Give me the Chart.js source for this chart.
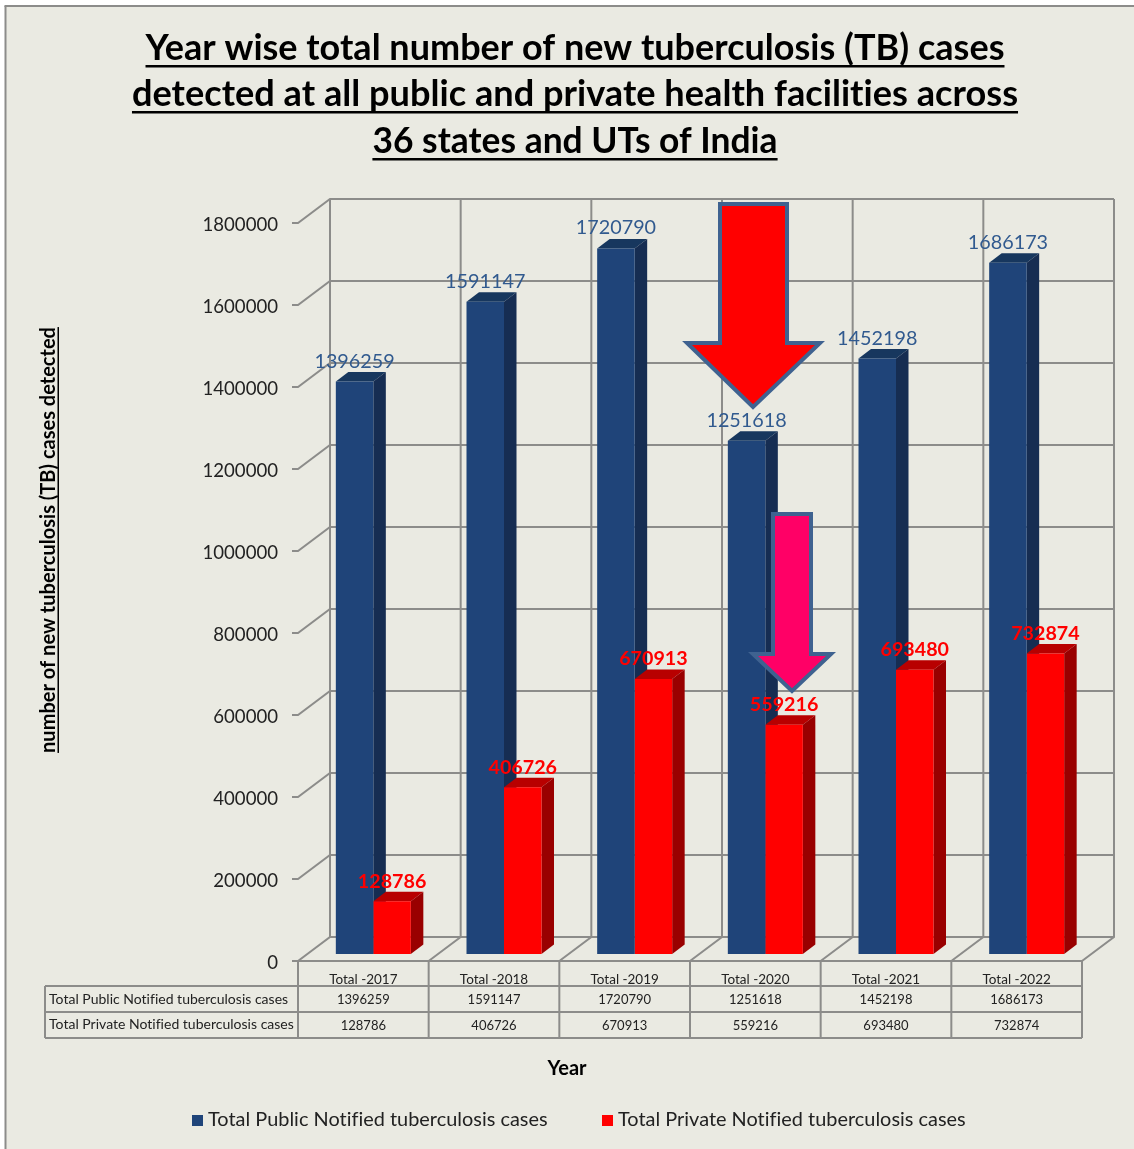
<!DOCTYPE html>
<html>
<head>
<meta charset="utf-8">
<title>New TB cases</title>
<script src="https://cdn.jsdelivr.net/npm/chart.js@4"></script>
<style>
html, body { margin: 0; padding: 0; background: #ffffff; }
canvas { display: block; }
</style>
</head>
<body>
<canvas id="chart" width="1134" height="1149"></canvas>
<script>
const years = ["Total -2017", "Total -2018", "Total -2019", "Total -2020", "Total -2021", "Total -2022"]
const publicCases = [1396259, 1591147, 1720790, 1251618, 1452198, 1686173]
const privateCases = [128786, 406726, 670913, 559216, 693480, 732874]
const publicLabel = "Total Public Notified tuberculosis cases"
const privateLabel = "Total Private Notified tuberculosis cases"
const titleLines = [
    "Year wise total number of new tuberculosis (TB) cases",
    "detected at all public and private health facilities across",
    "36 states and UTs of India"
]
const yTitle = "number of new tuberculosis (TB) cases detected"
const xTitle = "Year"

const FONT = "Lato"
const LINE = "#8c8c8a"
const BLUE = "#1f4479"
const RED = "#ff0000"
const WALL = {dx: 32, dy: -24}    // back wall offset from the front plane
const BAR = {dx: 10, dy: -7}      // where the bars stand on the floor
const DEPTH = {dx: 12.5, dy: -9.5}

function underlined(ctx, text, x, y, width, gap) {
    ctx.fillText(text, x, y)
    let w = ctx.measureText(text).width
    if (width) ctx.fillRect(x - w / 2, y + gap, w, width)
}

function drawArrow(ctx, p, fill) {
    ctx.beginPath()
    ctx.moveTo(p.left, p.top)
    ctx.lineTo(p.right, p.top)
    ctx.lineTo(p.right, p.neck)
    ctx.lineTo(p.wingR, p.neck)
    ctx.lineTo(p.tipX, p.tipY)
    ctx.lineTo(p.wingL, p.neck)
    ctx.lineTo(p.left, p.neck)
    ctx.closePath()
    ctx.fillStyle = fill
    ctx.fill()
    ctx.lineWidth = 4
    ctx.lineJoin = "miter"
    ctx.miterLimit = 10
    ctx.strokeStyle = "#3f6290"
    ctx.stroke()
}

// panel, walls and grid behind the bars
const backdrop = {
    id: "backdrop",
    beforeDraw(chart) {
        const {ctx, chartArea: a, scales} = chart
        ctx.save()
        ctx.fillStyle = "#eaeae2"
        ctx.fillRect(5, 5, 1129, 1144)
        ctx.fillStyle = LINE
        ctx.fillRect(4.5, 6, 2, 1143)
        ctx.fillRect(4.5, 5, 1130, 2)

        ctx.strokeStyle = LINE
        ctx.lineWidth = 2
        ctx.beginPath()
        scales.y.ticks.forEach(t => {
            let y = scales.y.getPixelForValue(t.value)
            ctx.moveTo(a.left - 6, y)
            ctx.lineTo(a.left, y)
            ctx.lineTo(a.left + WALL.dx, y + WALL.dy)
            ctx.lineTo(a.right + WALL.dx, y + WALL.dy)
        })
        let step = (a.right - a.left) / years.length
        for (let i = 0; i <= years.length; i++) {
            let x = a.left + i * step
            ctx.moveTo(x, a.bottom)
            ctx.lineTo(x + WALL.dx, a.bottom + WALL.dy)
            ctx.lineTo(x + WALL.dx, a.top + WALL.dy)
        }
        ctx.moveTo(a.left, a.bottom)
        ctx.lineTo(a.right, a.bottom)
        ctx.stroke()
        ctx.restore()
    }
}

// top and side faces of the bars, then the fronts get moved back onto the floor
const bars3d = {
    id: "bars3d",
    beforeDatasetsDraw(chart) {
        const ctx = chart.ctx
        const faces = [["#17375e", "#162d52"], ["#b80000", "#990000"]]
        ctx.save()
        ctx.translate(BAR.dx, BAR.dy)
        faces.forEach((colors, d) => {
            chart.getDatasetMeta(d).data.forEach(b => {
                let l = b.x - b.width / 2, r = b.x + b.width / 2
                ctx.fillStyle = colors[0]
                ctx.beginPath()
                ctx.moveTo(l, b.y)
                ctx.lineTo(l + DEPTH.dx, b.y + DEPTH.dy)
                ctx.lineTo(r + DEPTH.dx, b.y + DEPTH.dy)
                ctx.lineTo(r, b.y)
                ctx.fill()
                ctx.fillStyle = colors[1]
                ctx.beginPath()
                ctx.moveTo(r, b.y)
                ctx.lineTo(r + DEPTH.dx, b.y + DEPTH.dy)
                ctx.lineTo(r + DEPTH.dx, b.base + DEPTH.dy)
                ctx.lineTo(r, b.base)
                ctx.fill()
            })
        })
    },
    afterDatasetsDraw(chart) {
        chart.ctx.restore()
    }
}

// title, table, legend, value labels and the two arrows
const overlay = {
    id: "overlay",
    afterDraw(chart) {
        const {ctx, chartArea: a} = chart
        ctx.save()
        ctx.textBaseline = "alphabetic"
        ctx.textAlign = "center"

        ctx.fillStyle = "#000000"
        ctx.letterSpacing = "0.01px"    // keeps Lato from joining "ti" in facilities
        titleLines.forEach((t, i) => {
            ctx.font = "bold " + [36, 36.15, 35.4][i] + "px " + FONT
            underlined(ctx, t, 575, [60, 106, 153][i], 2.5, 5)
        })

        ctx.font = "bold 20px " + FONT
        underlined(ctx, xTitle, 567, 1075, 0, 0)
        ctx.save()
        ctx.translate(55, 540)
        ctx.rotate(-Math.PI / 2)
        underlined(ctx, yTitle, 0, 0, 1.5, 2.5)
        ctx.restore()

        // data table
        let step = (a.right - a.left) / years.length
        ctx.strokeStyle = LINE
        ctx.lineWidth = 2
        ctx.beginPath()
        ctx.moveTo(45, 986); ctx.lineTo(a.right, 986)
        ctx.moveTo(45, 1012); ctx.lineTo(a.right, 1012)
        ctx.moveTo(45, 1038); ctx.lineTo(a.right, 1038)
        ctx.moveTo(45, 986); ctx.lineTo(45, 1038)
        for (let i = 0; i <= years.length; i++) {
            ctx.moveTo(a.left + i * step, a.bottom)
            ctx.lineTo(a.left + i * step, 1038)
        }
        ctx.stroke()
        ctx.fillStyle = "#222222"
        ctx.font = "14px " + FONT
        ctx.textAlign = "left"
        ctx.fillText(publicLabel, 49, 1004)
        ctx.fillText(privateLabel, 49, 1029)
        ctx.font = "13px " + FONT
        ctx.textAlign = "center"
        years.forEach((y, i) => {
            let x = a.left + (i + 0.5) * step
            ctx.fillText(publicCases[i], x, 1004)
            ctx.fillText(privateCases[i], x, 1030)
        })

        // legend
        ctx.font = "19.9px " + FONT
        ctx.textAlign = "left"
        ctx.fillStyle = BLUE
        ctx.fillRect(192, 1115, 11, 11)
        ctx.fillStyle = RED
        ctx.fillRect(602, 1115, 11, 11)
        ctx.fillStyle = "#222222"
        ctx.fillText(publicLabel, 208, 1126)
        ctx.fillText(privateLabel, 618, 1126)

        drawArrow(ctx, {left: 720, right: 787, top: 204, neck: 343, wingL: 687, wingR: 820, tipX: 753, tipY: 407}, "#ff0000")
        drawArrow(ctx, {left: 773, right: 811, top: 514, neck: 654, wingL: 753, wingR: 831, tipX: 792, tipY: 691}, "#ff0066")

        // value labels, above each bar
        ctx.textAlign = "center"
        chart.getDatasetMeta(0).data.forEach((b, i) => {
            ctx.font = "19.8px " + FONT
            ctx.fillStyle = "#315a8f"
            ctx.fillText(publicCases[i], b.x + BAR.dx, b.y + BAR.dy - 14)
        })
        chart.getDatasetMeta(1).data.forEach((b, i) => {
            ctx.font = "bold 19.7px " + FONT
            ctx.fillStyle = RED
            ctx.fillText(privateCases[i], b.x + BAR.dx, b.y + BAR.dy - 13.5)
        })
        ctx.restore()
    }
}

new Chart(document.getElementById("chart"), {
    type: "bar",
    data: {
        labels: years,
        datasets: [
            {label: publicLabel, data: publicCases, backgroundColor: BLUE, clip: false},
            {label: privateLabel, data: privateCases, backgroundColor: RED, clip: false}
        ]
    },
    options: {
        responsive: false,
        animation: false,
        layout: {padding: {top: 223, right: 52, left: 0, bottom: 0}},
        categoryPercentage: 0.574,
        barPercentage: 1,
        plugins: {legend: {display: false}, tooltip: {enabled: false}},
        scales: {
            y: {
                min: 0,
                max: 1800000,
                afterFit(scale) { scale.width = 298 },
                grid: {display: false},
                border: {display: false},
                ticks: {
                    stepSize: 200000,
                    padding: 12,
                    color: "#222222",
                    // blank first line plus the small lineHeight nudges Lato's digits down 2px
                    callback: v => ["", String(v)],
                    font: {family: FONT, size: 18.6, lineHeight: "4px"}
                }
            },
            x: {
                afterFit(scale) { scale.height = 188 },
                grid: {display: false},
                border: {display: false},
                ticks: {padding: 3, color: "#222222", maxRotation: 0, font: {family: FONT, size: 13.5}}
            }
        }
    },
    plugins: [backdrop, bars3d, overlay]
})
</script>
</body>
</html>
